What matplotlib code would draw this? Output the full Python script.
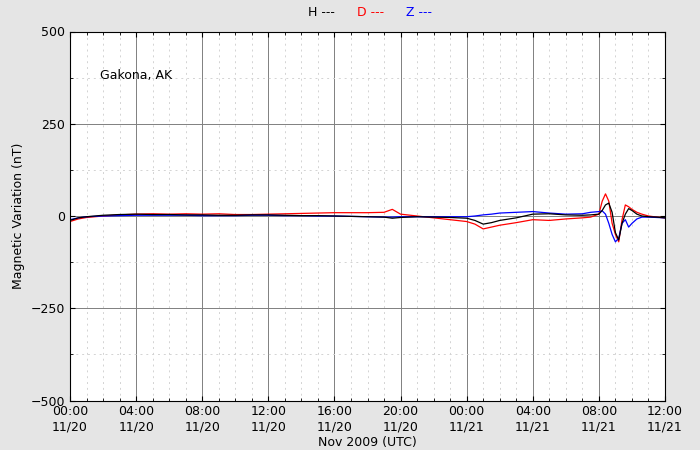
import numpy as np
import matplotlib
matplotlib.use("Agg")
import matplotlib.pyplot as plt
from matplotlib.ticker import MultipleLocator

# hours since 2009-11-20 00:00 UTC
hours = [0, 0.5, 1, 2, 3, 4, 5, 6, 7, 8, 9, 10, 11, 12, 13, 14, 15, 16, 17, 18,
         19, 19.5, 20, 21, 22, 23, 24, 24.5, 25, 25.5, 26, 27, 28, 29, 30, 31,
         31.5, 32, 32.2, 32.4, 32.6, 32.8, 33.0, 33.2, 33.4, 33.6, 33.8, 34.0,
         34.3, 34.6, 35, 35.5, 36]
h_vals = [-12, -5, -2, 2, 4, 5, 4, 4, 3, 3, 2, 2, 3, 3, 2, 1, 1, 0, -1, -2,
          -3, -6, -4, -2, -3, -4, -6, -12, -22, -18, -12, -5, 5, 6, 3, 2,
          3, 5, 15, 30, 35, 10, -45, -65, -20, 5, 20, 15,
          5, 0, -2, -3, -5]
d_vals = [-15, -8, -4, 0, 3, 5, 6, 5, 6, 5, 6, 4, 4, 5, 6, 7, 8, 9, 9, 9,
          10, 18, 5, 0, -5, -10, -15, -22, -35, -30, -25, -18, -10, -12, -8, -5,
          -3, 5, 40, 60, 40, -20, -50, -70, -10, 30, 25, 18,
          10, 5, 0, -3, -5]
z_vals = [-10, -5, -2, 0, 1, 2, 2, 2, 2, 1, 1, 1, 2, 2, 1, 1, 0, 0, -1, -2,
          -3, -3, -2, -2, -2, -2, -2, 0, 3, 5, 8, 10, 12, 8, 5, 6,
          10, 12, 14, 5, -20, -50, -70, -60, -20, -10, -30, -20,
          -8, -3, -3, -4, -5]

fig = plt.figure(figsize=(7, 4.5), dpi=100, facecolor="#e5e5e5")
ax = fig.add_axes([0.1, 0.11, 0.85, 0.82])
ax.plot(hours, d_vals, color="red", lw=0.9)
ax.plot(hours, z_vals, color="blue", lw=0.9)
ax.plot(hours, h_vals, color="black", lw=0.9)

ax.set_xlim(0, 36)
ax.set_ylim(-500, 500)
ax.xaxis.set_major_locator(MultipleLocator(4))
ax.xaxis.set_minor_locator(MultipleLocator(1))
ax.yaxis.set_major_locator(MultipleLocator(250))
ax.yaxis.set_minor_locator(MultipleLocator(125))
ax.grid(which="major", color="gray", lw=0.7)
ax.grid(which="minor", color="lightgray", ls=(0, (2, 4)), lw=0.7)
ax.set_axisbelow(True)

labels = []
for t in range(0, 37, 4):
    day = 20 + t // 24
    labels.append(f"{t % 24:02d}:00\n11/{day}")
ax.set_xticks(range(0, 37, 4))
ax.set_xticklabels(labels, fontsize=9)
ax.set_yticks([-500, -250, 0, 250, 500])
ax.set_yticklabels(["\u2212500", "\u2212250", "0", "250", "500"], fontsize=9)
ax.tick_params(which="both", direction="in", top=True, right=True)
ax.set_xlabel("Nov 2009 (UTC)", fontsize=9, labelpad=2)
ax.set_ylabel("Magnetic Variation (nT)", fontsize=9)
ax.text(0.05, 0.87, "Gakona, AK", transform=ax.transAxes, fontsize=9)

fig.text(0.44, 0.965, "H ---", color="black", fontsize=9)
fig.text(0.51, 0.965, "D ---", color="red", fontsize=9)
fig.text(0.58, 0.965, "Z ---", color="blue", fontsize=9)

fig.savefig("out.png", dpi=100, facecolor=fig.get_facecolor())
